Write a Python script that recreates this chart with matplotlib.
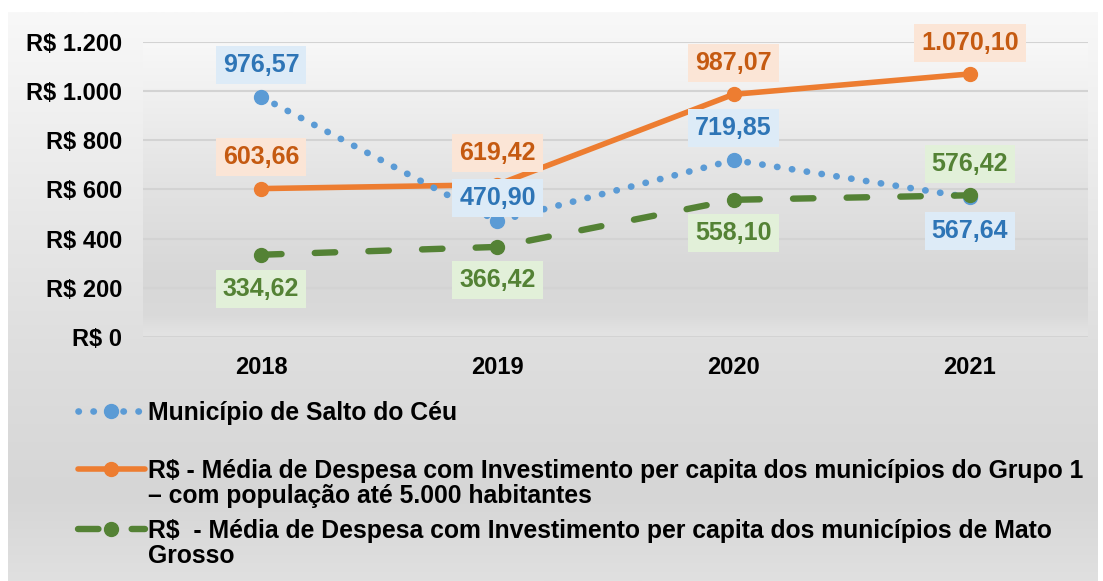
import matplotlib.pyplot as plt
import numpy as np
from matplotlib.ticker import FuncFormatter

plt.rcParams['font.family'] = ['Liberation Sans', 'DejaVu Sans']
plt.rcParams['font.weight'] = 'bold'

anos = ["2018", "2019", "2020", "2021"]
salto_do_ceu = [976.57, 470.90, 719.85, 567.64]
grupo_1 = [603.66, 619.42, 987.07, 1070.10]
mato_grosso = [334.62, 366.42, 558.10, 576.42]

legenda_salto = ["Município de Salto do Céu"]
legenda_grupo = ["R$ - Média de Despesa com Investimento per capita dos municípios do Grupo 1",
                 "– com população até 5.000 habitantes"]
legenda_mt = ["R$  - Média de Despesa com Investimento per capita dos municípios de Mato",
              "Grosso"]

W, H = 1103, 581


def brl(v, casas=2):
    s = f"{v:,.{casas}f}"
    return s.replace(",", "X").replace(".", ",").replace("X", ".")


def gradiente(paradas, n=400):
    pos = np.linspace(0, 1, n)
    cinza = np.interp(pos, [p for p, _ in paradas], [c for _, c in paradas]) / 255
    return np.dstack([cinza, cinza, cinza]).reshape(n, 1, 3)


fig = plt.figure(figsize=(W / 100, H / 100), dpi=100)
fig.patch.set_facecolor('white')

# fundo do gráfico inteiro
fundo = fig.add_axes([8 / W, 0, 1090 / W, 1 - 12 / H], zorder=-5)
fundo.imshow(gradiente([(0, 248), (0.35, 232), (0.6, 222), (0.85, 214), (1, 224)]),
             aspect='auto', extent=[0, 1, 0, 1], transform=fundo.transAxes)
fundo.axis('off')

ax = fig.add_axes([143 / W, 1 - 337 / H, (1088 - 143) / W, (337 - 42) / H])
ax.set_facecolor('none')
x = np.arange(len(anos))
ax.set_xlim(-0.5, len(anos) - 0.5)
ax.set_ylim(0, 1200)
ax.imshow(gradiente([(0, 248), (0.45, 228), (0.8, 215), (0.93, 218), (1, 228)]),
          aspect='auto', extent=[-0.5, len(anos) - 0.5, 0, 1200], zorder=0)

ax.set_yticks(range(0, 1201, 200))
ax.yaxis.set_major_formatter(FuncFormatter(lambda v, _: "R$ " + brl(v, 0)))
ax.set_xticks(x, anos)
ax.grid(axis='y', color='#d3d3d3', linewidth=1.5, zorder=1)
ax.tick_params(length=0, labelsize=17, colors='black')
ax.tick_params(axis='y', pad=15)
ax.tick_params(axis='x', pad=14)
for s in ax.spines.values():
    s.set_visible(False)

azul, laranja, verde = '#5b9bd5', '#ed7d31', '#548235'

l1, = ax.plot(x, salto_do_ceu, color=azul, linewidth=4.8, linestyle=(0, (0.05, 2.2)),
              dash_capstyle='round', marker='o', markersize=10, zorder=4)
l2, = ax.plot(x, grupo_1, color=laranja, linewidth=4.0, solid_capstyle='round',
              marker='o', markersize=10, zorder=3)
l3, = ax.plot(x, mato_grosso, color=verde, linewidth=4.6, linestyle=(0, (3.2, 5.2)),
              dash_capstyle='round', marker='o', markersize=10, zorder=5)

# rótulos de valor: (série, cor do texto, cor da caixa, deslocamento vertical em pontos)
rotulos = [
    (salto_do_ceu, '#2e75b6', '#ddebf7', [23, 16.5, 23, -24]),
    (grupo_1, '#c55a11', '#fbe5d6', [22.5, 22.5, 22.5, 22.5]),
    (mato_grosso, '#548235', '#e2f0d9', [-24.5, -24, -24, 22.5]),
]
for serie, cor_txt, cor_caixa, desl in rotulos:
    for xi, v, dy in zip(x, serie, desl):
        ax.annotate(brl(v), (xi, v), xytext=(0, dy), textcoords='offset points',
                    ha='center', va='center', fontsize=18, color=cor_txt,
                    bbox=dict(boxstyle='square,pad=0.28', fc=cor_caixa, ec='none'),
                    zorder=6)

# legenda em três entradas, com a segunda linha do texto logo abaixo
entradas = [(l1, legenda_salto, 413), (l2, legenda_grupo, 471), (l3, legenda_mt, 531)]
for linha, textos, y in entradas:
    fig.legend([linha], [textos[0]], loc='center left', bbox_to_anchor=(78 / W, 1 - y / H),
               frameon=False, fontsize=17.8, borderpad=0, borderaxespad=0,
               handlelength=2.7, handletextpad=0.12, numpoints=1)
    for k, t in enumerate(textos[1:], start=1):
        fig.text(148 / W, 1 - (y + 25 * k) / H, t, fontsize=17.8, va='center', ha='left')

fig.savefig('out.png', dpi=100, facecolor=fig.get_facecolor())
